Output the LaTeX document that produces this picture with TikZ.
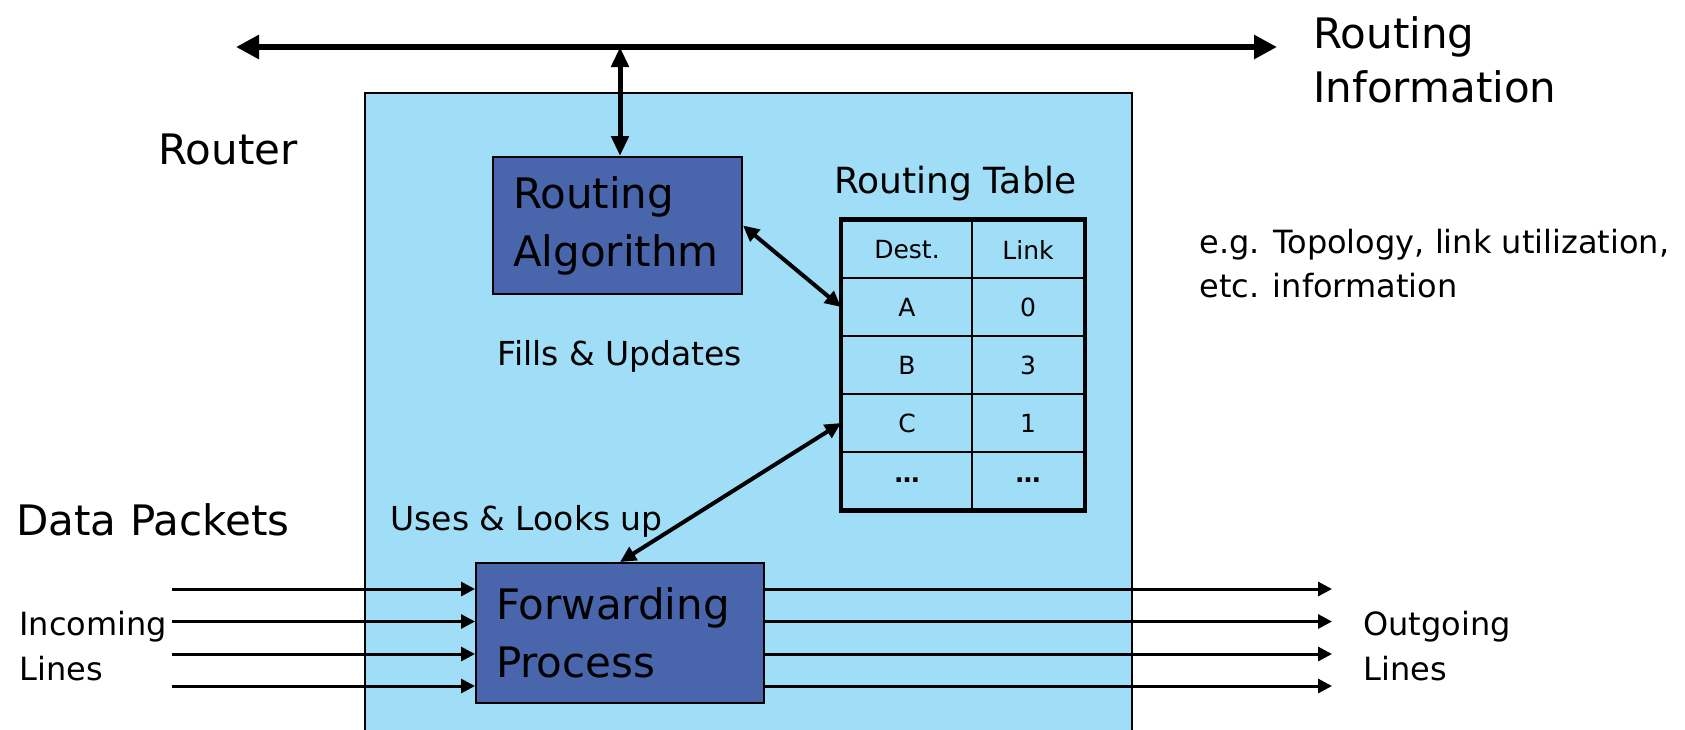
\documentclass[tikz,border=0pt]{standalone}
\usepackage{fontspec}
\setmainfont{DejaVu Sans}
\usetikzlibrary{arrows.meta}
\definecolor{routerfill}{RGB}{160,221,246}
\definecolor{procfill}{RGB}{73,102,173}
\newcommand\fsz[2]{\fontsize{#1}{#2}\selectfont}
\begin{document}
\begin{tikzpicture}[x=0.5pt,y=-0.5pt,
  txt/.style={inner sep=0pt, anchor=base west},
  biglbl/.style={txt, font=\fsz{21}{27}},
  midlbl/.style={txt, font=\fsz{16.5}{20}},
  smalllbl/.style={txt, font=\fsz{16}{22}},
  procbox/.style={draw=black, line width=1pt, fill=procfill, inner xsep=10pt,
    inner ysep=0pt, align=left, font=\fsz{21}{29}},
  cell/.style={draw=black, line width=1pt, minimum height=28.8pt, inner sep=0pt,
    font=\fsz{12.5}{15}},
  bus/.style={line width=3pt,
    {Triangle[length=11.5pt,width=11.5pt]}-{Triangle[length=11.5pt,width=11.5pt]}},
  vlink/.style={line width=2.5pt,
    {Triangle[length=10pt,width=8.5pt]}-{Triangle[length=10pt,width=8.5pt]}},
  dlink/.style={line width=2pt,
    {Triangle[length=8pt,width=7.5pt]}-{Triangle[length=8pt,width=7.5pt]}},
  pline/.style={line width=1.5pt, -{Triangle[length=7pt,width=7pt]}}
]
\useasboundingbox (0,0) rectangle (1685,729);
\clip (0,0) rectangle (1685,729);

% router enclosure (runs off the bottom edge)
\path[draw=black, line width=0.75pt, fill=routerfill] (365,93) rectangle (1132,760);

% processing blocks
\node[procbox, text width=104.5pt, minimum height=68.5pt] (ra) at (617.5,225.5)
  {Routing\\Algorithm};
\node[procbox, text width=124pt, minimum height=70pt] (fp) at (620,633)
  {Forwarding\\Process};

% routing table
\node[cell, minimum width=65pt] (hd) at (907,249.5) {Dest.};
\node[cell, minimum width=56pt] (hl) at (1028,249.5) {Link};
\node[cell, minimum width=65pt] (dA) at (907,307) {A};
\node[cell, minimum width=56pt] (lA) at (1028,307) {0};
\node[cell, minimum width=65pt] (dB) at (907,365) {B};
\node[cell, minimum width=56pt] (lB) at (1028,365) {3};
\node[cell, minimum width=65pt] (dC) at (907,423) {C};
\node[cell, minimum width=56pt] (lC) at (1028,423) {1};
\node[cell, minimum width=65pt] (dE) at (907,480.5) {\textbf{…}};
\node[cell, minimum width=56pt] (lE) at (1028,480.5) {\textbf{…}};
\draw[line width=2.25pt] (hd.north west) rectangle (lE.south east);
\node[midlbl, font=\fsz{18}{22}] (rtt) at (834,193) {Routing Table};

% routing information bus
\coordinate (busl) at (236,47);
\coordinate (busr) at (1277,47);
\coordinate (tap) at (620,47);
\draw[bus] (busl) -- (busr);
\draw[vlink] (tap) -- (tap |- ra.north);

% table access
\draw[dlink] (ra.east) -- (dA.west);
\draw[dlink] (fp.north) -- (dC.west);

% incoming and outgoing lines
\foreach \i/\y in {1/589,2/621.5,3/654,4/686}{
  \coordinate (in\i) at (172,\y);
  \coordinate (out\i) at (1332,\y);
  \draw[pline] (in\i) -- (in\i -| fp.west);
  \draw[pline] (out\i -| fp.east) -- (out\i);
}

% labels
\node[biglbl] (router) at (158,164) {Router};
\node[biglbl] (ri1) at (1313,48) {Routing};
\node[biglbl] (ri2) at (1313,102) {Information};
\node[biglbl] (dp) at (16,535) {Data Packets};
\node[smalllbl] (eg1) at (1199,253) {e.g. Topology, link utilization,};
\node[smalllbl] (eg2) at (1199,297) {etc. information};
\node[midlbl] (fu) at (497,365) {Fills \& Updates};
\node[midlbl] (ul) at (390,530) {Uses \& Looks up};
\node[smalllbl] (inc1) at (19,635) {Incoming};
\node[smalllbl] (inc2) at (19,680) {Lines};
\node[smalllbl] (out1l) at (1363,635) {Outgoing};
\node[smalllbl] (out2l) at (1363,680) {Lines};
\end{tikzpicture}
\end{document}
